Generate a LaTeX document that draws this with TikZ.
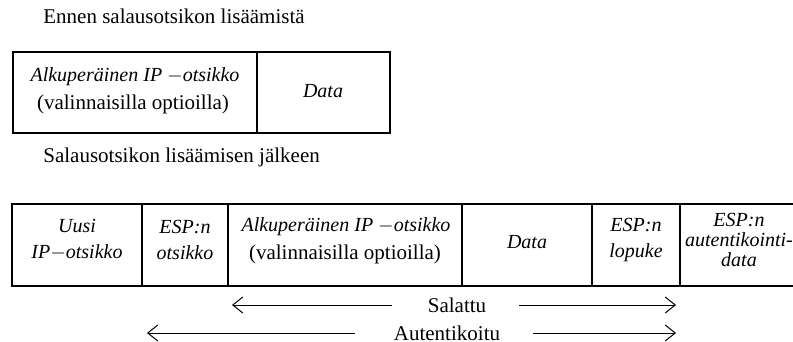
\documentclass[tikz,border=0pt]{standalone}
\usepackage{fontspec}
\setmainfont{Liberation Serif}
\usetikzlibrary{arrows.meta}
\begin{document}
\begin{tikzpicture}[x=0.5pt,y=-0.5pt,
  frame/.style={line width=0.9pt},
  lbl/.style={font=\fontsize{10.5}{13}\selectfont, inner sep=0pt},
  cell/.style={font=\fontsize{10}{13}\selectfont\itshape, align=center, inner sep=0pt},
  plain/.style={font=\fontsize{10.5}{13}\selectfont, align=center, inner sep=0pt},
  span/.style={line width=0.5pt, -{Straight Barb[length=5pt,width=8pt]}}]
\useasboundingbox (0,0) rectangle (793,342);
\clip (0,0) rectangle (793,342);

% headings
\node[lbl, anchor=west] (h1) at (43,16) {Ennen salausotsikon lisäämistä};
\node[lbl, anchor=west] (h2) at (43,157) {Salausotsikon lisäämisen jälkeen};

% packet before ESP
\draw[frame] (13,52) rectangle (390,133);
\draw[frame] (257,52) -- (257,133);
\node[cell] (a1) at (135,77) {Alkuperäinen IP $-$otsikko};
\node[plain] (a2) at (133,104) {(valinnaisilla optioilla)};
\node[cell] (a3) at (323,91) {Data};

% packet after ESP
\draw[frame] (820,204) -- (12,204) -- (12,286) -- (820,286);
\foreach \x in {142,228,462,592,680} \draw[frame] (\x,204) -- (\x,286);
\node[cell] (b1) at (77,240) {Uusi\\IP$-$otsikko};
\node[cell] (b2) at (185,240) {ESP:n\\otsikko};
\node[cell] (b3) at (346,227) {Alkuperäinen IP $-$otsikko};
\node[plain] (b4) at (345,254) {(valinnaisilla optioilla)};
\node[cell] (b5) at (527,242) {Data};
\node[cell] (b6) at (636,240) {ESP:n\\lopuke};
\node[cell, font=\fontsize{10}{10}\selectfont\itshape] (b7) at (739,240) {ESP:n\\autentikointi-\\data};

% coverage arrows
\node[plain] (s) at (457,305) {Salattu};
\node[plain] (t) at (447,333) {Autentikoitu};
\coordinate (sl) at (232,305);
\coordinate (sr) at (676,305);
\coordinate (tl) at (147,333);
\coordinate (tr) at (676,333);
\draw[span] (392,305) -- (sl);
\draw[span] (519,305) -- (sr);
\draw[span] (355,333) -- (tl);
\draw[span] (533,333) -- (tr);
\end{tikzpicture}
\end{document}
